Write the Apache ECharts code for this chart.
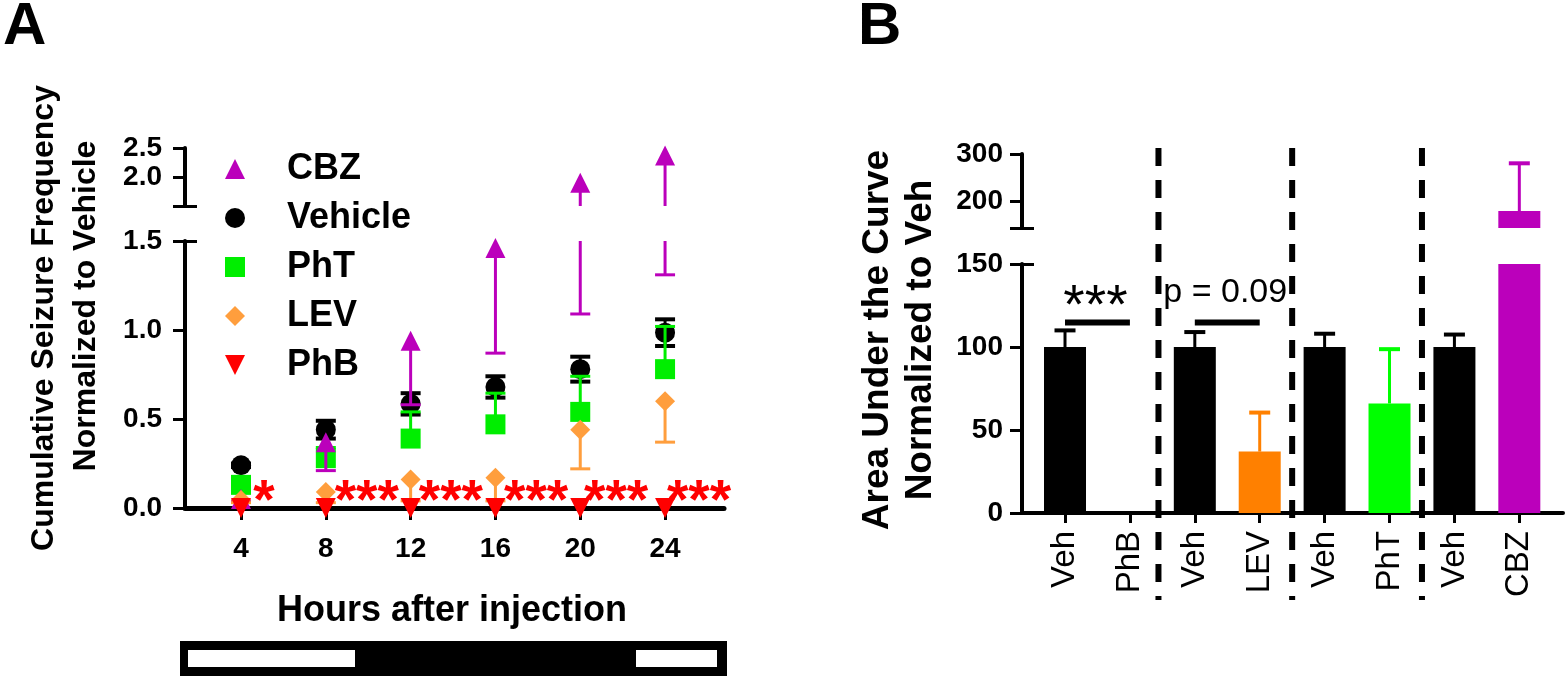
<!DOCTYPE html>
<html><head><meta charset="utf-8">
<script src="https://cdn.jsdelivr.net/npm/echarts@6/dist/echarts.min.js"></script>
<style>html,body{margin:0;padding:0;background:#fff}#c{width:1568px;height:678px}</style>
</head><body><div id="c"></div>
<script>
const FONT = '"Liberation Sans", Arial, Helvetica, sans-serif';

// ---------- Panel A data ----------
const hours = [4, 8, 12, 16, 20, 24];
const cbzMean = [0.05, 0.37, 0.94, 1.46, 1.90, 2.37];
const cbzLow  = [0.04, 0.21, 0.58, 0.87, 1.09, 1.31];
const vehMean = [0.24, 0.44, 0.585, 0.68, 0.78, 0.985];
const vehErr  = [0.01, 0.05, 0.06, 0.06, 0.07, 0.075];
const phtMean = [0.13, 0.28, 0.39, 0.47, 0.54, 0.78];
const phtHigh = [0.15, 0.34, 0.54, 0.645, 0.74, 1.02];
const levMean = [0.045, 0.09, 0.16, 0.17, 0.44, 0.60];
const levLow  = [0.03, 0.03, 0.04, 0.04, 0.22, 0.37];
const phbMean = [0, 0, 0, 0, 0, 0];
const groupNames = ['CBZ', 'Vehicle', 'PhT', 'LEV', 'PhB'];
const yTicksALow = [0, 0.5, 1.0, 1.5];
const yTicksAHigh = [2.0, 2.5];
const breakA = 1.5;
const sigAx = [5.08, 9.93, 13.9, 17.92, 21.69, 25.6];
const sigAText = ['*', '***', '***', '***', '***', '***'];

// ---------- Panel B data ----------
const catsB = ['Veh', 'PhB', 'Veh', 'LEV', 'Veh', 'PhT', 'Veh', 'CBZ'];
const aucMean = [100, 0, 100, 37, 100, 66, 100, 180.5];
const aucHigh = [110, 0, 109, 60.5, 108, 98.7, 107.5, 280.5];
const yTicksBLow = [0, 50, 100, 150];
const yTicksBHigh = [200, 300];
const breakBLow = 150, breakBHigh = 145;
const dividersB = [1.44, 3.5, 5.5];
const bracketsB = [[0, 1, 114.7, '***'], [2, 3, 114.7, 'p = 0.09']];

// ---------- styles ----------
const colA = {CBZ: '#BB00BB', Vehicle: '#000000', PhT: '#00EE00', LEV: '#FF9E3D', PhB: '#FF0000'};
const barColors = ['#000000', '#FF0000', '#000000', '#FF8000', '#000000', '#00FF00', '#000000', '#BB00BB'];

function errRender(colorFn, capW, lw, capLw) {
  return function (params, api) {
    const x = api.value(0), m = api.value(1), lo = api.value(2), hi = api.value(3);
    const c = colorFn(params.dataIndex);
    const a = api.coord([x, lo]), b = api.coord([x, hi]);
    const ch = [{type: 'line', shape: {x1: a[0], y1: a[1], x2: b[0], y2: b[1]}, style: {stroke: c, lineWidth: lw}}];
    const cs = {stroke: c, lineWidth: capLw};
    if (lo < m) ch.push({type: 'line', shape: {x1: a[0] - capW / 2, y1: a[1], x2: a[0] + capW / 2, y2: a[1]}, style: cs});
    if (hi > m) ch.push({type: 'line', shape: {x1: b[0] - capW / 2, y1: b[1], x2: b[0] + capW / 2, y2: b[1]}, style: cs});
    return {type: 'group', children: ch};
  };
}

const axisLineStyle = (w) => ({show: true, onZero: false, lineStyle: {color: '#000', width: w}});
const tickLabel = (size, bold) => ({fontFamily: FONT, fontSize: size, fontWeight: bold ? 'bold' : 'normal', color: '#000'});

const xAmin = 1.358, xAmax = 26.78;
const xBmin = -0.6626, xBmax = 7.673;

const grids = [
  {left: 185, top: 241, width: 539, height: 267},   // 0 A lower
  {left: 185, top: 148, width: 539, height: 58},    // 1 A upper
  {left: 1022, top: 264, width: 541, height: 249},  // 2 B lower
  {left: 1022, top: 154, width: 541, height: 74},   // 3 B upper
  {left: 1022, top: 148, width: 541, height: 452}   // 4 B divider overlay
].map(g => Object.assign({outerBoundsMode: 'none', containLabel: false}, g));

const hiddenX = (gi, mn, mx) => ({type: 'value', gridIndex: gi, min: mn, max: mx, show: false,
  axisLine: {show: false, onZero: false}, splitLine: {show: false}});

const xAxes = [
  {type: 'value', gridIndex: 0, min: xAmin, max: xAmax, axisLine: axisLineStyle(5),
   axisTick: {show: true, customValues: hours, length: 12, lineStyle: {color: '#000', width: 3}},
   axisLabel: {show: true, customValues: hours, margin: 27, formatter: v => String(v), ...tickLabel(28, true)},
   splitLine: {show: false}},
  hiddenX(1, xAmin, xAmax),
  {type: 'value', gridIndex: 2, min: xBmin, max: xBmax, axisLine: axisLineStyle(4),
   axisTick: {show: true, customValues: catsB.map((c, i) => i), length: 10, lineStyle: {color: '#000', width: 3}},
   axisLabel: {show: true, customValues: catsB.map((c, i) => i), rotate: 90, margin: 18,
     formatter: v => catsB[Math.round(v)], ...tickLabel(33, false)},
   splitLine: {show: false}},
  hiddenX(3, xBmin, xBmax),
  hiddenX(4, xBmin, xBmax)
];

function mainY(gi, mn, mx, ticks, labels, margin, fmt) {
  return {type: 'value', gridIndex: gi, min: mn, max: mx, position: 'left', axisLine: axisLineStyle(4),
    axisTick: {show: true, customValues: ticks, length: 12, lineStyle: {color: '#000', width: 3}},
    axisLabel: {show: true, customValues: labels, margin: margin, formatter: fmt, ...tickLabel(28, true)},
    splitLine: {show: false}};
}
function capY(gi, mn, mx, v) {
  return {type: 'value', gridIndex: gi, min: mn, max: mx, position: 'left', axisLine: {show: false, onZero: false},
    axisTick: {show: true, inside: true, customValues: [v], length: 12, lineStyle: {color: '#000', width: 3}},
    axisLabel: {show: false}, splitLine: {show: false}};
}
const fmtA = v => v.toFixed(1);
const fmtB = v => String(v);
const yAxes = [
  mainY(0, 0, breakA, yTicksALow, yTicksALow, 23, fmtA),                         // 0
  mainY(1, breakA, 2.5, [breakA].concat(yTicksAHigh), yTicksAHigh, 23, fmtA),     // 1
  capY(0, 0, breakA, breakA),                                                     // 2
  capY(1, breakA, 2.5, breakA),                                                   // 3
  mainY(2, 0, breakBLow, yTicksBLow, yTicksBLow, 19, fmtB),                      // 4
  mainY(3, breakBHigh, 300, [breakBHigh].concat(yTicksBHigh), yTicksBHigh, 19, fmtB), // 5
  capY(2, 0, breakBLow, breakBLow),                                               // 6
  capY(3, breakBHigh, 300, breakBHigh),                                           // 7
  {type: 'value', gridIndex: 4, min: 0, max: 1, show: false, axisLine: {show: false, onZero: false}, splitLine: {show: false}} // 8
];

// ---------- Panel A series ----------
const groups = {
  Vehicle: {mean: vehMean, lo: vehMean.map((m, i) => m - vehErr[i]), hi: vehMean.map((m, i) => m + vehErr[i]), symbol: 'circle', size: 20, rot: 0, cap: 20, capLw: 4},
  PhT: {mean: phtMean, lo: phtMean, hi: phtHigh, symbol: 'rect', size: 20, rot: 0, cap: 20, capLw: 3},
  CBZ: {mean: cbzMean, lo: cbzLow, hi: cbzMean, symbol: 'triangle', size: 20, rot: 0, cap: 20, capLw: 3},
  LEV: {mean: levMean, lo: levLow, hi: levMean, symbol: 'diamond', size: 20, rot: 0, cap: 20, capLw: 3},
  PhB: {mean: phbMean, lo: phbMean, hi: phbMean, symbol: 'triangle', size: 20, rot: 180, cap: 20, capLw: 3}
};
const drawOrder = ['Vehicle', 'PhT', 'CBZ', 'LEV', 'PhB'];
const series = [];
drawOrder.forEach((name, k) => {
  const g = groups[name];
  const z = 3 + k * 2;
  const rows = hours.map((h, i) => [h, g.mean[i], g.lo[i], g.hi[i]]);
  [[0, 0], [1, 1]].forEach(([xi, yi]) => {
    series.push({type: 'custom', name: name + ' error', coordinateSystem: 'cartesian2d', xAxisIndex: xi, yAxisIndex: yi,
      clip: true, z: z, silent: true, data: rows,
      renderItem: errRender(() => colA[name], g.cap, 3, g.capLw)});
  });
  const low = hours.map((h, i) => [h, g.mean[i]]).filter(p => p[1] <= breakA);
  const high = hours.map((h, i) => [h, g.mean[i]]).filter(p => p[1] > breakA);
  [[0, 0, low], [1, 1, high]].forEach(([xi, yi, d]) => {
    if (!d.length) return;
    series.push({type: 'scatter', name: name, xAxisIndex: xi, yAxisIndex: yi, clip: false, z: z + 1, data: d,
      symbol: g.symbol, symbolSize: g.size, symbolRotate: g.rot,
      itemStyle: {color: colA[name], opacity: 1}});
  });
});
series.push({type: 'scatter', name: 'sigA', xAxisIndex: 0, yAxisIndex: 0, z: 20, clip: false, symbolSize: 0,
  itemStyle: {opacity: 1, color: '#FF0000'},
  data: sigAx.map((x, i) => ({value: [x, 0.1], name: sigAText[i]})),
  label: {show: true, position: 'inside', formatter: '{b}', color: '#FF0000', opacity: 1, fontFamily: FONT, fontSize: 55,
    fontWeight: 'bold', offset: [0, 13]}});

// ---------- Panel B series ----------
const barData = aucMean.map((v, i) => ({value: [i, v], itemStyle: {color: barColors[i]}}));
[[2, 4], [3, 5]].forEach(([xi, yi]) => {
  series.push({type: 'bar', name: 'AUC', xAxisIndex: xi, yAxisIndex: yi, barWidth: 42, clip: true, z: 3,
    data: barData});
  series.push({type: 'custom', name: 'AUC error', coordinateSystem: 'cartesian2d', xAxisIndex: xi, yAxisIndex: yi,
    clip: true, z: 4, silent: true,
    data: aucMean.map((v, i) => [i, v, v, aucHigh[i]]),
    renderItem: errRender(i => barColors[i], 21, 3, 4)});
});
bracketsB.forEach(b => {
  series.push({type: 'line', name: 'bracket', xAxisIndex: 2, yAxisIndex: 4, symbol: 'none', z: 5,
    data: [[b[0], b[2]], [b[1], b[2]]], lineStyle: {color: '#000', width: 6}});
});
const sigBLabelStyles = [{fontSize: 55, offset: [-2, -15]}, {fontSize: 34, offset: [-2, -30]}];
series.push({type: 'scatter', name: 'sigB', xAxisIndex: 2, yAxisIndex: 4, z: 6, clip: false, symbolSize: 0,
  itemStyle: {opacity: 1, color: '#000'},
  data: bracketsB.map((b, i) => ({value: [(b[0] + b[1]) / 2, b[2]], name: b[3], label: sigBLabelStyles[i]})),
  label: {show: true, position: 'inside', formatter: '{b}', color: '#000', opacity: 1, fontFamily: FONT, fontWeight: 'normal'}});

dividersB.forEach(d => {
  series.push({type: 'line', name: 'divider', xAxisIndex: 4, yAxisIndex: 8, symbol: 'none', z: 10, silent: true,
    data: [[d, 1], [d, 0]], lineStyle: {color: '#000', width: 6, type: [18, 14]}});
});

// ---------- graphics (panel letters, titles, light/dark bar) ----------
const txt = (text, x, y, size, bold, rot) => ({type: 'text', x: x, y: y, rotation: rot || 0,
  style: {text: text, fontFamily: FONT, fontSize: size, fontWeight: bold ? 'bold' : 'normal', fill: '#000',
    align: 'center', verticalAlign: 'middle'}});
const graphic = [
  {type: 'text', x: 3, y: 27, style: {text: 'A', fontFamily: FONT, fontSize: 60, fontWeight: 'bold', fill: '#000', align: 'left', verticalAlign: 'middle'}},
  {type: 'text', x: 858, y: 27, style: {text: 'B', fontFamily: FONT, fontSize: 60, fontWeight: 'bold', fill: '#000', align: 'left', verticalAlign: 'middle'}},
  txt('Cumulative Seizure Frequency', 44, 318, 32, true, Math.PI / 2),
  txt('Normalized to Vehicle', 86, 306, 32, true, Math.PI / 2),
  txt('Area Under the Curve', 878, 340, 37, true, Math.PI / 2),
  txt('Normalized to Veh', 921, 340, 37, true, Math.PI / 2),
  txt('Hours after injection', 452, 611, 36, true, 0),
  {type: 'rect', shape: {x: 180, y: 641, width: 547, height: 35}, style: {fill: '#000'}},
  {type: 'rect', shape: {x: 188, y: 650, width: 167, height: 17}, style: {fill: '#fff'}},
  {type: 'rect', shape: {x: 636, y: 650, width: 81, height: 17}, style: {fill: '#fff'}}
];

const chart = echarts.init(document.getElementById('c'), null, {renderer: 'canvas'});
chart.setOption({
  animation: false,
  backgroundColor: '#fff',
  grid: grids,
  xAxis: xAxes,
  yAxis: yAxes,
  legend: {
    orient: 'vertical', left: 220, top: 146, itemWidth: 20, itemHeight: 20, itemGap: 13,
    selectedMode: false,
    data: [
      {name: 'CBZ', icon: 'triangle'},
      {name: 'Vehicle', icon: 'circle'},
      {name: 'PhT', icon: 'rect'},
      {name: 'LEV', icon: 'diamond'},
      {name: 'PhB', icon: 'path://M0,0L20,0L10,20Z'}
    ],
    textStyle: {fontFamily: FONT, fontSize: 36, fontWeight: 'bold', color: '#000', padding: [0, 0, 0, 37]}
  },
  graphic: graphic,
  series: series
});
</script>
</body></html>
